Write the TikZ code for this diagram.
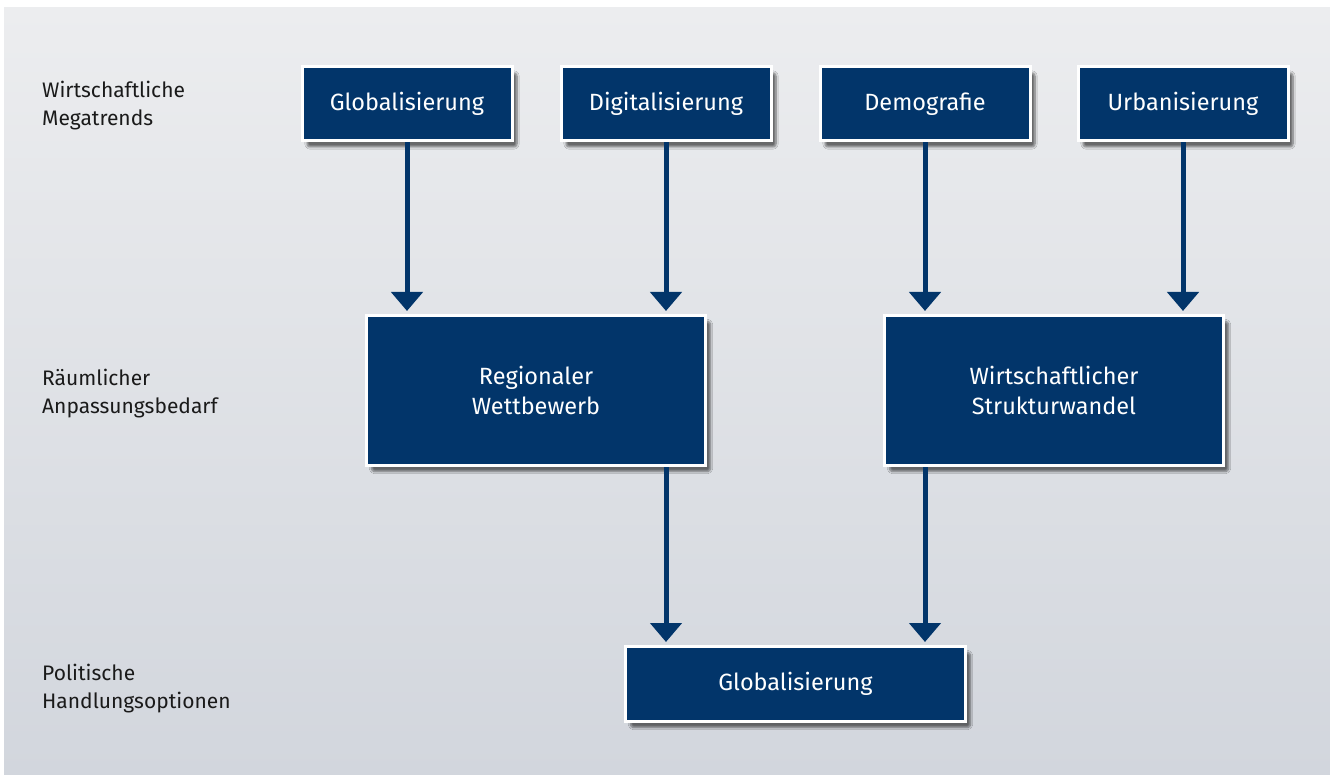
\documentclass[tikz,border=0pt]{standalone}
\usepackage{fontspec}
\setmainfont{Fira Sans}
\usetikzlibrary{arrows.meta,shadows,shadows.blur}
\definecolor{navy}{HTML}{02356A}
\definecolor{bgtop}{HTML}{ECEDEF}
\definecolor{bgbot}{HTML}{D2D6DD}
\definecolor{lbl}{HTML}{1A1A1A}
\tikzset{
  box/.style={draw=white, line width=3pt, fill=navy, text=white, align=center,
    font=\fontsize{23.5}{30}\selectfont, inner sep=0pt,
    blur shadow={shadow xshift=5pt, shadow yshift=-6pt, shadow blur steps=8, shadow blur extra rounding=3pt, shadow opacity=55}},
  lab/.style={anchor=west, align=left, text=lbl, font=\fontsize{21}{28}\selectfont, inner sep=0pt},
  arr/.style={draw=navy, line width=5pt, -{Triangle[width=31pt,length=19pt]}, shorten >=3pt}
}
\begin{document}
\begin{tikzpicture}[x=1pt,y=-1pt]
\useasboundingbox (0,0) rectangle (1330,775);
\shade[top color=bgtop, bottom color=bgbot] (4,8) rectangle (1330,775);
% labels
\node[lab] (l1) at (42,106) {Wirtschaftliche\\Megatrends};
\node[lab] (l2) at (42,394) {Räumlicher\\Anpassungsbedarf};
\node[lab] (l3) at (42,689) {Politische\\Handlungsoptionen};
% top row
\node[box, minimum width=210pt, minimum height=74pt] (g1) at (407,104) {Globalisierung};
\node[box, minimum width=210pt, minimum height=74pt] (g2) at (666,104) {Digitalisierung};
\node[box, minimum width=210pt, minimum height=74pt] (g3) at (925,104) {Demografie};
\node[box, minimum width=210pt, minimum height=74pt] (g4) at (1183,104) {Urbanisierung};
% middle row
\node[box, minimum width=339pt, minimum height=150pt] (m1) at (536,390.5) {Regionaler\\Wettbewerb};
\node[box, minimum width=339pt, minimum height=150pt] (m2) at (1054,390.5) {Wirtschaftlicher\\Strukturwandel};
% bottom
\node[box, minimum width=340pt, minimum height=75pt] (b1) at (795.5,684) {Globalisierung};
% arrows
\draw[arr] (g1.south) -- (g1.south |- m1.north);
\draw[arr] (g2.south) -- (g2.south |- m1.north);
\draw[arr] (g3.south) -- (g3.south |- m2.north);
\draw[arr] (g4.south) -- (g4.south |- m2.north);
\draw[arr] (m1.south -| g2.south) -- (g2.south |- b1.north);
\draw[arr] (m2.south -| g3.south) -- (g3.south |- b1.north);
\end{tikzpicture}
\end{document}
